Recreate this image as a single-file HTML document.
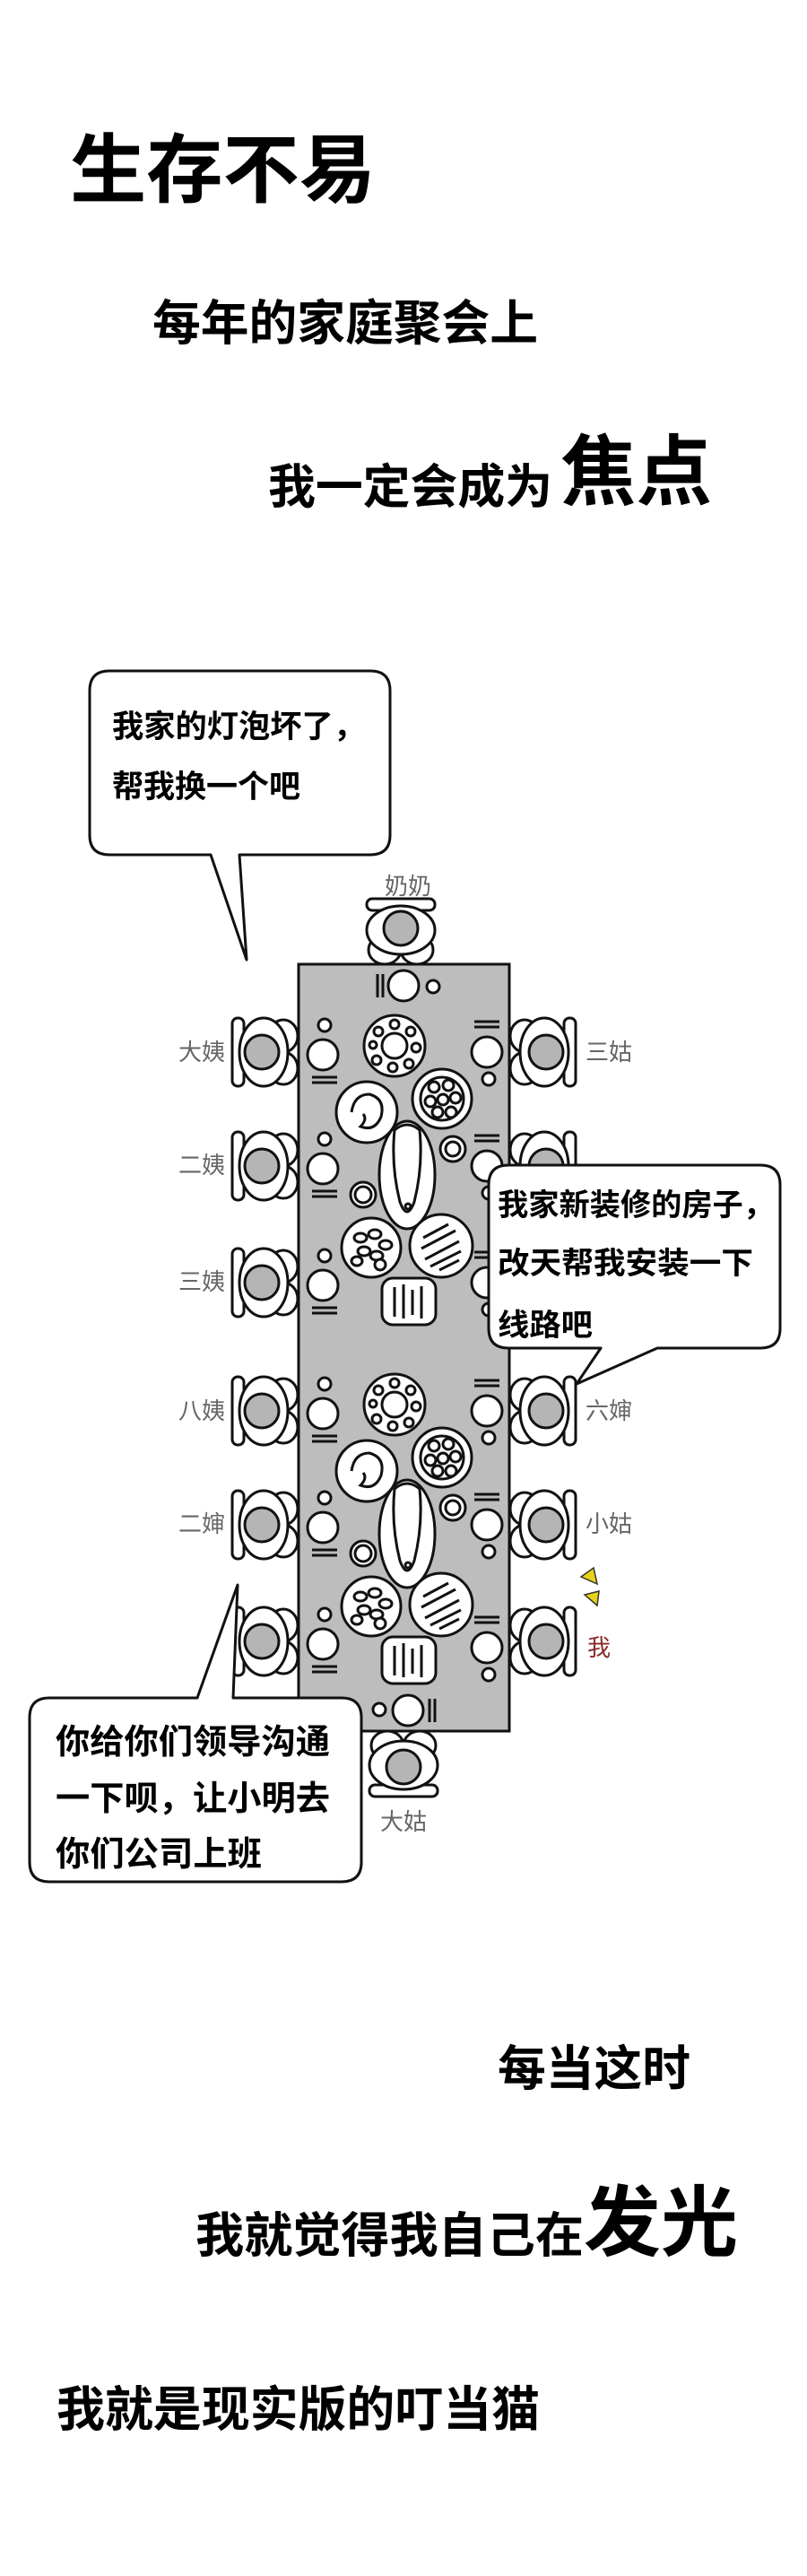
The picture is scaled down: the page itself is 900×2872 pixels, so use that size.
<!DOCTYPE html>
<html><head><meta charset="utf-8">
<style>
html,body{margin:0;padding:0;background:#fff;}
svg{display:block;}
text{font-family:"Liberation Sans","Noto Sans CJK SC",sans-serif;}
.h{font-weight:bold;fill:#000;}
.lb{fill:#666;font-size:26px;}
</style></head>
<body>
<svg width="900" height="2872" viewBox="0 0 900 2872" xmlns="http://www.w3.org/2000/svg">
<defs>
  <symbol id="chair" overflow="visible">
    <g stroke="#111" stroke-width="3" fill="#fff">
      <rect x="-33" y="-38" width="13" height="76" rx="6"/>
      <ellipse cx="24" cy="-18" rx="16" ry="18"/>
      <ellipse cx="24" cy="18" rx="16" ry="18"/>
      <ellipse cx="2" cy="0" rx="27" ry="38"/>
      <circle cx="0" cy="0" r="19" fill="#b5b5b5"/>
    </g>
  </symbol>
  <symbol id="setL" overflow="visible">
    <g stroke="#111" stroke-width="3" fill="#fff">
      <circle cx="0" cy="-30" r="7"/>
      <circle cx="-2" cy="3" r="17"/>
      <line x1="-14" y1="28" x2="14" y2="28"/>
      <line x1="-14" y1="34" x2="14" y2="34"/>
    </g>
  </symbol>
  <symbol id="setR" overflow="visible">
    <g stroke="#111" stroke-width="3" fill="#fff">
      <line x1="-14" y1="-34" x2="14" y2="-34"/>
      <line x1="-14" y1="-28" x2="14" y2="-28"/>
      <circle cx="0" cy="0" r="17"/>
      <circle cx="2" cy="30" r="7"/>
    </g>
  </symbol>
  <symbol id="dishes" overflow="visible">
    <g stroke="#111" stroke-width="3" fill="#fff">
      <!-- ring platter -->
      <circle cx="440" cy="1166" r="34"/>
      <circle cx="440" cy="1166" r="14"/>
      <circle cx="422" cy="1150" r="5"/><circle cx="440" cy="1142" r="5"/><circle cx="458" cy="1150" r="5"/>
      <circle cx="464" cy="1168" r="5"/><circle cx="456" cy="1186" r="5"/><circle cx="438" cy="1190" r="5"/>
      <circle cx="420" cy="1182" r="5"/><circle cx="416" cy="1165" r="4"/>
      <!-- veg plate -->
      <circle cx="493" cy="1225" r="33"/>
      <circle cx="493" cy="1225" r="24"/>
      <circle cx="484" cy="1212" r="6"/><circle cx="500" cy="1210" r="6"/><circle cx="480" cy="1228" r="6"/>
      <circle cx="494" cy="1226" r="6"/><circle cx="508" cy="1224" r="6"/><circle cx="488" cy="1240" r="6"/><circle cx="503" cy="1240" r="6"/>
      <!-- chicken -->
      <circle cx="409" cy="1240" r="34"/>
      <path d="M392,1240 Q395,1220 412,1220 Q430,1225 425,1245 Q418,1262 402,1256 Q410,1248 405,1242"/>
      <!-- fish -->
      <ellipse cx="454" cy="1310" rx="31" ry="60"/>
      <path d="M440,1260 Q454,1248 468,1260 Q472,1300 462,1340 Q454,1362 446,1340 Q436,1300 440,1260 Z"/>
      <circle cx="455" cy="1345" r="3"/>
      <!-- small bowls -->
      <circle cx="505" cy="1281" r="14"/><circle cx="505" cy="1281" r="8"/>
      <circle cx="405" cy="1332" r="14"/><circle cx="405" cy="1332" r="9"/>
      <!-- beans -->
      <circle cx="414" cy="1391" r="33"/>
      <ellipse cx="402" cy="1380" rx="7" ry="5"/><ellipse cx="418" cy="1376" rx="7" ry="5"/><ellipse cx="430" cy="1388" rx="7" ry="5"/>
      <ellipse cx="406" cy="1395" rx="7" ry="5"/><ellipse cx="420" cy="1400" rx="7" ry="5"/><ellipse cx="398" cy="1406" rx="6" ry="5"/>
      <circle cx="424" cy="1410" r="6"/>
      <!-- striped -->
      <circle cx="492" cy="1389" r="35"/>
      <path d="M472,1380 L500,1365 M470,1392 L508,1372 M474,1404 L512,1384 M480,1412 L514,1395 M490,1416 L512,1405" fill="none"/>
      <!-- rect dish -->
      <rect x="426" y="1425" width="60" height="52" rx="12"/>
      <path d="M440,1435 V1468 M450,1432 V1470 M460,1438 V1466 M470,1434 V1470" fill="none"/>
    </g>
  </symbol>
</defs>

<!-- Titles -->
<text class="h" x="78" y="219" font-size="84" textLength="341" lengthAdjust="spacingAndGlyphs">生存不易</text>
<text class="h" x="170" y="379" font-size="54" textLength="430" lengthAdjust="spacingAndGlyphs">每年的家庭聚会上</text>
<text class="h" x="299" y="561" font-size="53" textLength="317" lengthAdjust="spacingAndGlyphs">我一定会成为</text>
<text class="h" x="625" y="556" font-size="86" textLength="169" lengthAdjust="spacingAndGlyphs">焦点</text>

<!-- Table -->
<rect x="333" y="1075" width="235" height="855" fill="#bdbdbd" stroke="#111" stroke-width="3"/>

<!-- top & bottom chairs -->
<use href="#chair" transform="translate(447,1035) rotate(90)"/>
<use href="#chair" transform="translate(450,1970) rotate(-90)"/>
<!-- head place settings -->
<g stroke="#111" stroke-width="3" fill="#fff">
  <circle cx="450" cy="1099" r="17"/><circle cx="483" cy="1100" r="7"/>
  <line x1="421" y1="1086" x2="421" y2="1112"/><line x1="427" y1="1086" x2="427" y2="1112"/>
  <circle cx="455" cy="1907" r="17"/><circle cx="423" cy="1906" r="7"/>
  <line x1="479" y1="1894" x2="479" y2="1920"/><line x1="485" y1="1894" x2="485" y2="1920"/>
</g>

<!-- left chairs -->
<use href="#chair" x="0" y="0" transform="translate(292,1173)"/>
<use href="#chair" transform="translate(292,1300)"/>
<use href="#chair" transform="translate(292,1430)"/>
<use href="#chair" transform="translate(292,1573)"/>
<use href="#chair" transform="translate(292,1700)"/>
<use href="#chair" transform="translate(292,1830)"/>
<!-- right chairs -->
<use href="#chair" transform="translate(609,1173) scale(-1,1)"/>
<use href="#chair" transform="translate(609,1300) scale(-1,1)"/>
<use href="#chair" transform="translate(609,1430) scale(-1,1)"/>
<use href="#chair" transform="translate(609,1573) scale(-1,1)"/>
<use href="#chair" transform="translate(609,1700) scale(-1,1)"/>
<use href="#chair" transform="translate(609,1830) scale(-1,1)"/>

<!-- place settings -->
<use href="#setL" transform="translate(362,1173)"/>
<use href="#setL" transform="translate(362,1300)"/>
<use href="#setL" transform="translate(362,1430)"/>
<use href="#setL" transform="translate(362,1573)"/>
<use href="#setL" transform="translate(362,1700)"/>
<use href="#setL" transform="translate(362,1830)"/>
<use href="#setR" transform="translate(543,1173)"/>
<use href="#setR" transform="translate(543,1300)"/>
<use href="#setR" transform="translate(543,1430)"/>
<use href="#setR" transform="translate(543,1573)"/>
<use href="#setR" transform="translate(543,1700)"/>
<use href="#setR" transform="translate(543,1837)"/>

<!-- dishes -->
<use href="#dishes"/>
<use href="#dishes" transform="translate(0,400)"/>

<!-- labels -->
<text class="lb" x="455" y="997" text-anchor="middle">奶奶</text>
<text class="lb" x="225" y="1182" text-anchor="middle">大姨</text>
<text class="lb" x="225" y="1308" text-anchor="middle">二姨</text>
<text class="lb" x="225" y="1438" text-anchor="middle">三姨</text>
<text class="lb" x="225" y="1582" text-anchor="middle">八姨</text>
<text class="lb" x="225" y="1708" text-anchor="middle">二婶</text>
<text class="lb" x="679" y="1182" text-anchor="middle">三姑</text>
<text class="lb" x="679" y="1582" text-anchor="middle">六婶</text>
<text class="lb" x="679" y="1708" text-anchor="middle">小姑</text>
<text x="668" y="1846" text-anchor="middle" font-size="26" fill="#8a2a2a">我</text>
<text class="lb" x="450" y="2040" text-anchor="middle">大姑</text>
<!-- yellow marks -->
<polygon points="648,1758 662,1748 666,1766" fill="#e8d21c" stroke="#333" stroke-width="1.5"/>
<polygon points="652,1778 668,1774 666,1790" fill="#e8d21c" stroke="#333" stroke-width="1.5"/>

<!-- Bubbles -->
<g fill="#fff" stroke="#111" stroke-width="3" stroke-linejoin="round">
  <path d="M122,748 H413 Q435,748 435,770 V931 Q435,953 413,953 H267 L275,1070 L235,953 H122 Q100,953 100,931 V770 Q100,748 122,748 Z"/>
  <path d="M567,1299 H848 Q870,1299 870,1321 V1481 Q870,1503 848,1503 H733 L643,1543 L670,1503 H567 Q545,1503 545,1481 V1321 Q545,1299 567,1299 Z"/>
  <path d="M55,1893 H220 L265,1767 L260,1893 H381 Q403,1893 403,1915 V2076 Q403,2098 381,2098 H55 Q33,2098 33,2076 V1915 Q33,1893 55,1893 Z"/>
</g>
<g class="h">
  <text x="125" y="822" font-size="35" textLength="282" lengthAdjust="spacingAndGlyphs">我家的灯泡坏了，</text>
  <text x="125" y="889" font-size="35" textLength="210" lengthAdjust="spacingAndGlyphs">帮我换一个吧</text>
  <text x="555" y="1355" font-size="34" textLength="308" lengthAdjust="spacingAndGlyphs">我家新装修的房子，</text>
  <text x="555" y="1420" font-size="34" textLength="285" lengthAdjust="spacingAndGlyphs">改天帮我安装一下</text>
  <text x="555" y="1489" font-size="34" textLength="106" lengthAdjust="spacingAndGlyphs">线路吧</text>
  <text x="62" y="1955" font-size="38" textLength="306" lengthAdjust="spacingAndGlyphs">你给你们领导沟通</text>
  <text x="62" y="2018" font-size="38" textLength="306" lengthAdjust="spacingAndGlyphs">一下呗，让小明去</text>
  <text x="62" y="2080" font-size="38" textLength="230" lengthAdjust="spacingAndGlyphs">你们公司上班</text>
</g>

<!-- Bottom text -->
<text class="h" x="555" y="2325" font-size="54" textLength="215" lengthAdjust="spacingAndGlyphs">每当这时</text>
<text class="h" x="218" y="2511" font-size="54" textLength="433" lengthAdjust="spacingAndGlyphs">我就觉得我自己在</text>
<text class="h" x="651" y="2508" font-size="86" textLength="172" lengthAdjust="spacingAndGlyphs">发光</text>
<text class="h" x="63" y="2705" font-size="54" textLength="539" lengthAdjust="spacingAndGlyphs">我就是现实版的叮当猫</text>
</svg>
</body></html>
